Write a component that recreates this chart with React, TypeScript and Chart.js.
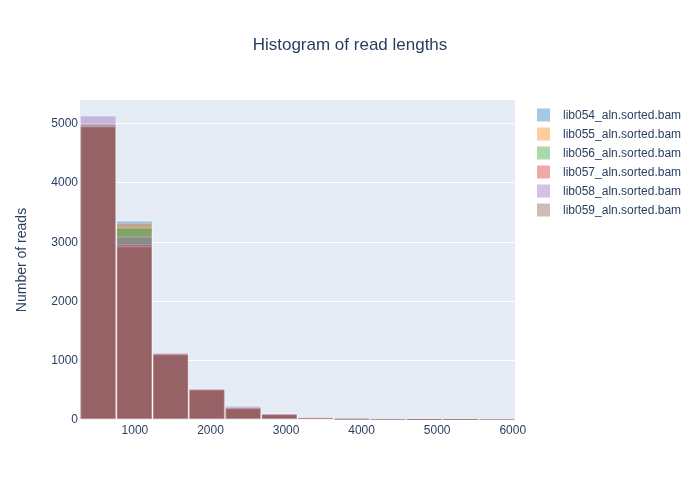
import React, { useEffect, useRef } from "react";
import { Chart, registerables } from "chart.js";

Chart.register(...registerables);

const seriesNames = [
  "lib054_aln.sorted.bam",
  "lib055_aln.sorted.bam",
  "lib056_aln.sorted.bam",
  "lib057_aln.sorted.bam",
  "lib058_aln.sorted.bam",
  "lib059_aln.sorted.bam",
];
const seriesColors = [
  "rgba(31,119,180,0.4)",
  "rgba(255,127,14,0.4)",
  "rgba(44,160,44,0.4)",
  "rgba(214,39,40,0.4)",
  "rgba(148,103,189,0.4)",
  "rgba(140,86,75,0.4)",
];

const binStart = 273;
const binSize = 479.75;

const lib054 = [4985, 3360, 1125, 520, 205, 102, 46, 20, 9, 4, 2, 1];
const lib055 = [4995, 3325, 1120, 515, 210, 100, 45, 20, 8, 4, 2, 1];
const lib056 = [4980, 3245, 1115, 520, 203, 102, 46, 20, 9, 4, 1, 1];
const lib057 = [4965, 2965, 1130, 525, 210, 108, 49, 22, 10, 4, 2, 1];
const lib058 = [5135, 3095, 1135, 530, 240, 112, 51, 22, 10, 5, 2, 1];
const lib059 = [4955, 2935, 1110, 515, 205, 102, 47, 21, 9, 4, 2, 1];

const seriesValues = [lib054, lib055, lib056, lib057, lib058, lib059];

const xTicks = [1000, 2000, 3000, 4000, 5000, 6000];
const yTicks = [0, 1000, 2000, 3000, 4000, 5000];

const FONT = "'Liberation Sans', Arial, sans-serif";
const TEXT = "#2a3f5f";

const bgPlugin = {
  id: "plotBg",
  beforeDraw(chart: any) {
    const { ctx, chartArea } = chart;
    ctx.save();
    ctx.fillStyle = "#E5ECF6";
    ctx.fillRect(chartArea.left, chartArea.top, chartArea.right - chartArea.left, chartArea.bottom - chartArea.top);
    ctx.restore();
  },
};

const legendPlugin = {
  id: "customLegend",
  afterDraw(chart: any) {
    const { ctx } = chart;
    ctx.save();
    ctx.font = `12px ${FONT}`;
    ctx.textBaseline = "middle";
    ctx.textAlign = "left";
    seriesNames.forEach((name, i) => {
      const cy = 115 + i * 19;
      ctx.fillStyle = seriesColors[i];
      ctx.fillRect(537, cy - 6.5, 13, 13);
      ctx.fillStyle = TEXT;
      ctx.fillText(name, 563, cy + 0.5);
    });
    ctx.restore();
  },
};

export default function App() {
  const ref = useRef<HTMLCanvasElement>(null);
  useEffect(() => {
    if (!ref.current) return;
    const datasets = seriesValues.map((vals, s) => ({
      label: seriesNames[s],
      data: vals.map((v, i) => ({ x: binStart + binSize * (i + 0.5), y: v })),
      backgroundColor: seriesColors[s],
      borderColor: "rgba(255,255,255,0.22)",
      borderWidth: 1,
      borderSkipped: false,
      barPercentage: 1,
      categoryPercentage: 1,
      grouped: false,
      order: seriesValues.length - s,
      xAxisID: "x",
      yAxisID: "y",
    }));
    const chart = new Chart(ref.current, {
      type: "bar",
      data: { datasets },
      options: {
        animation: false,
        responsive: false,
        layout: { padding: 0 },
        plugins: {
          legend: { display: false },
          tooltip: { enabled: false },
          title: {
            display: true,
            text: "Histogram of read lengths",
            color: TEXT,
            font: { family: FONT, size: 17, weight: "normal" },
            padding: { top: 34.8, bottom: 44.8 },
          },
        },
        scales: {
          x: {
            type: "linear",
            min: binStart,
            max: binStart + binSize * 12,
            offset: false,
            grid: { display: false, drawTicks: false },
            border: { display: false },
            ticks: {
              stepSize: 1000,
              padding: 3,
              color: TEXT,
              font: { family: FONT, size: 12 },
              maxRotation: 0,
              autoSkip: false,
              callback: (v: any) => String(v),
            },
            afterBuildTicks(axis: any) {
              axis.ticks = xTicks.map((v) => ({ value: v }));
            },
            afterFit(axis: any) {
              axis.height = 80;
              axis.paddingLeft = 0;
              axis.paddingRight = 0;
            },
          },
          y: {
            type: "linear",
            position: "left",
            min: 0,
            max: 5400,
            grid: { color: "#ffffff", lineWidth: 1, drawTicks: false },
            border: { display: false },
            ticks: {
              stepSize: 1000,
              padding: 2,
              color: TEXT,
              font: { family: FONT, size: 12 },
              autoSkip: false,
              callback: (v: any) => String(v),
            },
            title: {
              display: true,
              text: "Number of reads",
              color: TEXT,
              font: { family: FONT, size: 14 },
              padding: { top: 14, bottom: 0 },
            },
            afterBuildTicks(axis: any) {
              axis.ticks = yTicks.map((v) => ({ value: v }));
            },
            afterFit(axis: any) {
              axis.width = 80;
              axis.paddingTop = 0;
              axis.paddingBottom = 0;
            },
          },
          legendSpace: {
            type: "linear",
            position: "right",
            display: true,
            grid: { display: false, drawTicks: false },
            border: { display: false },
            ticks: { display: false },
            afterFit(axis: any) {
              axis.width = 185;
              axis.paddingTop = 0;
              axis.paddingBottom = 0;
            },
          },
        },
      } as any,
      plugins: [bgPlugin, legendPlugin],
    });
    return () => chart.destroy();
  }, []);
  return (
    <div style={{ position: "absolute", left: 0, top: 0, width: 700, height: 500, background: "#fff" }}>
      <canvas ref={ref} width={700} height={500} style={{ display: "block" }} />
    </div>
  );
}
